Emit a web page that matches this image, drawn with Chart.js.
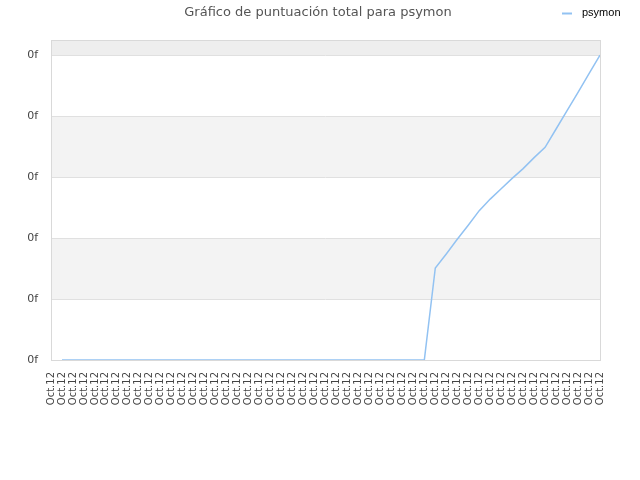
<!DOCTYPE html>
<html><head><meta charset="utf-8">
<script src="https://cdn.jsdelivr.net/npm/chart.js@4/dist/chart.umd.min.js"></script>
<style>html,body{margin:0;padding:0;background:#fff}#wrap{width:640px;height:480px}</style>
</head><body><div id="wrap"><canvas id="c" width="640" height="480"></canvas></div>
<script>
const titleText = 'Gráfico de puntuación total para psymon';
const seriesName = 'psymon';
const categories = [
  'Oct.12','Oct.12','Oct.12','Oct.12','Oct.12','Oct.12','Oct.12','Oct.12','Oct.12','Oct.12',
  'Oct.12','Oct.12','Oct.12','Oct.12','Oct.12','Oct.12','Oct.12','Oct.12','Oct.12','Oct.12',
  'Oct.12','Oct.12','Oct.12','Oct.12','Oct.12','Oct.12','Oct.12','Oct.12','Oct.12','Oct.12',
  'Oct.12','Oct.12','Oct.12','Oct.12','Oct.12','Oct.12','Oct.12','Oct.12','Oct.12','Oct.12',
  'Oct.12','Oct.12','Oct.12','Oct.12','Oct.12','Oct.12','Oct.12','Oct.12','Oct.12','Oct.12',
  'Oct.12'
];
const scores = [
  null,
  0,0,0,0,0,0,0,0,0,0,
  0,0,0,0,0,0,0,0,0,0,
  0,0,0,0,0,0,0,0,0,0,
  0,0,0,0,
  1.51,1.74,1.98,2.21,2.45,2.64,2.81,2.98,3.14,3.32,
  3.49,3.79,4.09,4.39,4.70,5.00
];
const yTickValues = [0,1,2,3,4,5];
const yTickLabels = ['0f','0f','0f','0f','0f','0f'];
const yMax = 5.25;

const decor = {
  id: 'decor',
  beforeDraw(chart) {
    const {ctx, chartArea: a, scales: {y}} = chart;
    ctx.save();
    const bands = [[1,2,'#f3f3f3'],[3,4,'#f3f3f3'],[5,yMax,'#eeeeee']];
    bands.forEach(([lo,hi,col]) => {
      const t = y.getPixelForValue(hi), b = y.getPixelForValue(lo);
      ctx.fillStyle = col;
      ctx.fillRect(a.left, t, a.right - a.left, b - t);
    });
    ctx.restore();
  },
  afterDraw(chart) {
    const {ctx, chartArea: a} = chart;
    ctx.save();
    ctx.strokeStyle = '#d9d9d9';
    ctx.lineWidth = 1;
    ctx.strokeRect(Math.round(a.left) + 0.5, Math.round(a.top) + 0.5,
      Math.round(a.right - a.left), Math.round(a.bottom - a.top));
    // title
    ctx.fillStyle = '#555555';
    ctx.font = '13px "DejaVu Sans"';
    ctx.textAlign = 'center';
    ctx.textBaseline = 'middle';
    ctx.fillText(titleText, 318, 13);
    // legend
    const ds = chart.data.datasets[0];
    ctx.strokeStyle = ds.borderColor;
    ctx.lineWidth = 2;
    ctx.beginPath();
    ctx.moveTo(562, 13.5);
    ctx.lineTo(572, 13.5);
    ctx.stroke();
    ctx.fillStyle = '#000000';
    ctx.font = '11px "Liberation Sans"';
    ctx.textAlign = 'left';
    ctx.fillText(ds.label, 582, 13);
    ctx.restore();
  }
};

new Chart(document.getElementById('c'), {
  type: 'line',
  data: {
    labels: categories,
    datasets: [{
      label: seriesName,
      data: scores,
      borderColor: '#92c2f2',
      borderWidth: 1.5,
      pointRadius: 0,
      tension: 0,
      fill: false,
      spanGaps: false
    }]
  },
  options: {
    responsive: false,
    animation: false,
    devicePixelRatio: 1,
    layout: { padding: { top: 40, right: 40, left: 0, bottom: 0 } },
    plugins: { legend: { display: false }, title: { display: false }, tooltip: { enabled: false } },
    scales: {
      x: {
        type: 'category',
        offset: false,
        grid: { display: false, drawTicks: false },
        border: { display: false },
        ticks: {
          autoSkip: false, minRotation: 90, maxRotation: 90, padding: 12,
          color: '#444444', font: { family: 'DejaVu Sans', size: 10 }
        },
        afterFit(scale) { scale.height = 120; }
      },
      y: {
        min: 0, max: yMax,
        grid: { color: '#e0e0e0', drawTicks: false, lineWidth: 1 },
        border: { display: false },
        afterBuildTicks(scale) { scale.ticks = yTickValues.map(v => ({ value: v })); },
        ticks: {
          padding: 13,
          color: '#444444',
          font: { family: 'DejaVu Sans', size: 11 },
          callback(value, index) { return yTickLabels[index]; }
        },
        afterFit(scale) { scale.width = 51; }
      }
    }
  },
  plugins: [decor]
});
</script>
</body></html>
